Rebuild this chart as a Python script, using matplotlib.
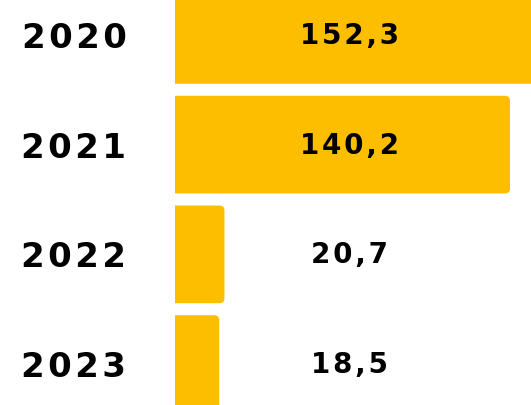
import matplotlib.pyplot as plt
from matplotlib.patches import FancyBboxPatch

anos = ['2020', '2021', '2022', '2023']
valores = [152.3, 140.2, 20.7, 18.5]
rotulos = ['152,3', '140,2', '20,7', '18,5']

cor = '#FDBE00'
hs = '\u200a'  # espaco fino para imitar o espacamento das letras

fig = plt.figure(figsize=(5.31, 4.05), dpi=100)
ax = fig.add_axes([175 / 531, 0, 356 / 531, 1])

# escala: x de 0 a 149 (px 175..531), y com passo de 110 px por barra
px_x = 356 / 149.0
px_y = 110.0
aspecto = px_x / px_y
raio = 5 / px_x

for i, v in enumerate(valores):
    caixa = FancyBboxPatch((-10, i - 0.445), v + 10, 0.89,
                           boxstyle=f'round,pad=0,rounding_size={raio}',
                           mutation_aspect=aspecto,
                           facecolor=cor, edgecolor='none', clip_on=True)
    ax.add_patch(caixa)
    ax.text(0.489, i + 0.01, hs.join(rotulos[i]), transform=ax.get_yaxis_transform(),
            ha='center', va='center', fontsize=20, fontweight='bold',
            color='black')

ax.set_xlim(0, 149)
ax.set_ylim(3.373, -0.318)
ax.set_yticks(range(len(anos)))
ax.set_yticklabels([hs.join(a) for a in anos], fontsize=24.5,
                   fontweight='bold')
ax.tick_params(axis='y', length=0, pad=35)
ax.set_xticks([])
for s in ax.spines.values():
    s.set_visible(False)

fig.savefig('out.png', dpi=100)
